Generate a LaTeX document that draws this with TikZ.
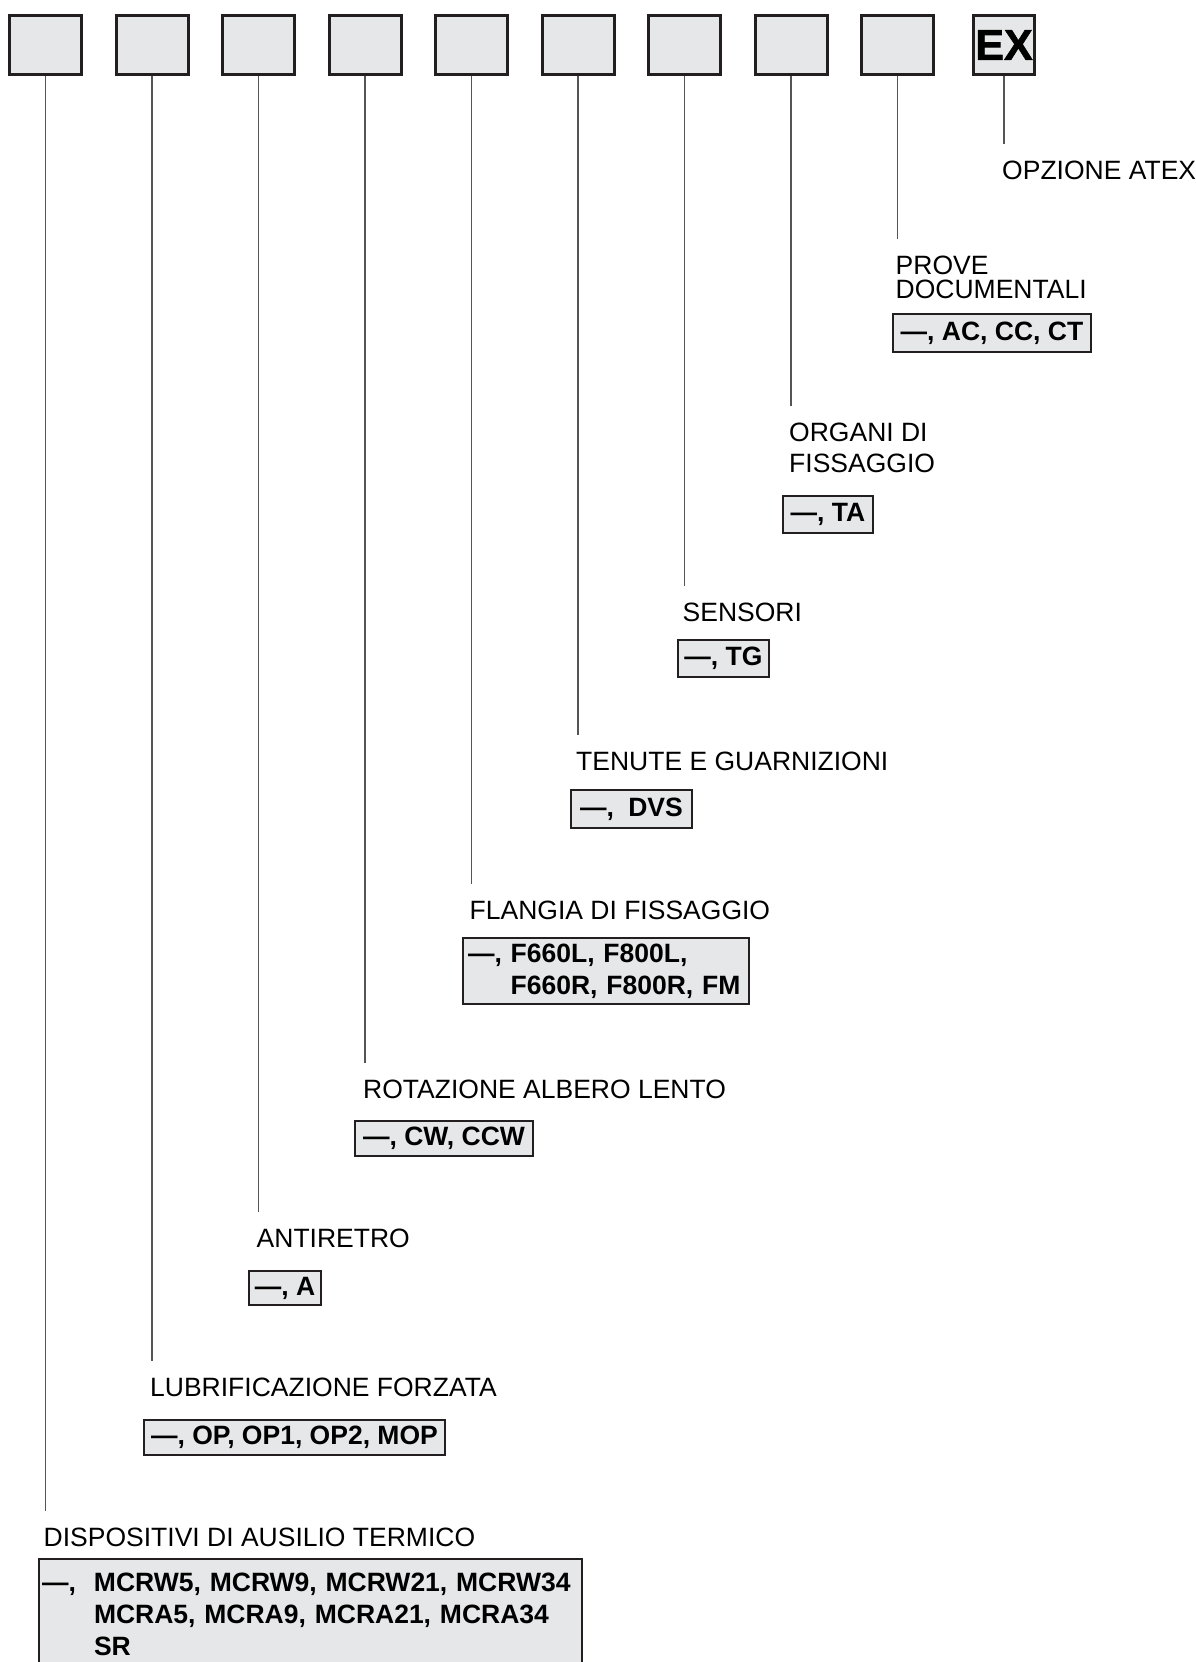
\documentclass[tikz,border=0pt]{standalone}
\usepackage{fontspec}
\setmainfont{Liberation Sans}
\usepackage{xcolor}
\definecolor{codeGray}{RGB}{230,231,232}
\definecolor{codeBorder}{RGB}{35,31,32}
\definecolor{leadGray}{RGB}{85,85,85}
\usepackage{tikz}
\usetikzlibrary{positioning, calc}

\begin{document}
\begin{tikzpicture}[
		x=1pt, y=-1pt,
		codebox/.style={rectangle, draw=codeBorder, line width=3pt, fill=codeGray,
			minimum width=72pt, minimum height=59pt, inner sep=0pt},
		lbl/.style={anchor=north west, inner sep=0pt, align=left,
			font=\fontsize{26.5}{24}\selectfont},
		opt/.style={rectangle, draw=codeBorder, line width=2pt, fill=codeGray,
			anchor=north west, align=left, inner xsep=3pt, inner ysep=0pt,
			font=\fontsize{26.5}{32}\selectfont\bfseries},
		lead/.style={leadGray, line width=1.3pt, shorten >=17pt}
		]
		\useasboundingbox (0,0) rectangle (1196,1662);

		% code fields
		\foreach \i in {1,...,9}
			\node[codebox] (b\i) at ({45.5+106.5*(\i-1)},45) {};
		\node[codebox, minimum width=61pt] (b10) at (1004,45)
		{\fontsize{43}{43}\selectfont\bfseries\addfontfeature{FakeBold=1.5}EX};

		% field names
		\node[lbl] (l10) at (1002,161)  {OPZIONE ATEX};
		\node[lbl] (l9)  at (895.5,256) {PROVE\\DOCUMENTALI};
		\node[lbl] (l8)  at (789,423)   {ORGANI DI\\[7pt]FISSAGGIO};
		\node[lbl] (l7)  at (682.5,603) {SENSORI};
		\node[lbl] (l6)  at (576,752)   {TENUTE E GUARNIZIONI};
		\node[lbl] (l5)  at (469.5,901) {FLANGIA DI FISSAGGIO};
		\node[lbl] (l4)  at (363,1080)  {ROTAZIONE ALBERO LENTO};
		\node[lbl] (l3)  at (256.5,1229) {ANTIRETRO};
		\node[lbl] (l2)  at (150,1378)  {LUBRIFICAZIONE FORZATA};
		\node[lbl] (l1)  at (43.5,1528) {DISPOSITIVI DI AUSILIO TERMICO};

		% allowed values
		\node[opt, minimum width=198pt, minimum height=38pt] (o9) at (892,313)
		{—, AC, CC, CT};
		\node[opt, minimum width=90pt, minimum height=37pt] (o8) at (782,495)
		{—, TA};
		\node[opt, minimum width=91pt, minimum height=37pt] (o7) at (677,639)
		{—, TG};
		\node[opt, minimum width=121pt, minimum height=38pt] (o6) at (570,789)
		{—,\hspace{7pt} DVS};
		\node[opt, text width=276pt, inner xsep=5pt, minimum height=66pt] (o5) at (462,937)
		{—, F660L, F800L,\\\hphantom{—, }F660R, F800R, FM};
		\node[opt, minimum width=178pt, minimum height=35pt] (o4) at (354,1120)
		{—, CW, CCW};
		\node[opt, minimum width=72pt, minimum height=34pt] (o3) at (248,1270)
		{—, A};
		\node[opt, minimum width=301pt, minimum height=35pt] (o2) at (143,1419)
		{—, OP, OP1, OP2, MOP};
		\node[opt, text width=537pt, inner ysep=14pt] (o1) at (38,1558)
		{\makebox[52pt][l]{—,}MCRW5, MCRW9, MCRW21, MCRW34\\
			\makebox[52pt]{}MCRA5, MCRA9, MCRA21, MCRA34\\
			\makebox[52pt]{}SR\\ };

		% leaders
		\foreach \i in {1,...,10}
			\draw[lead] (b\i.south) -- (b\i.south |- l\i.north);
	\end{tikzpicture}
\end{document}
